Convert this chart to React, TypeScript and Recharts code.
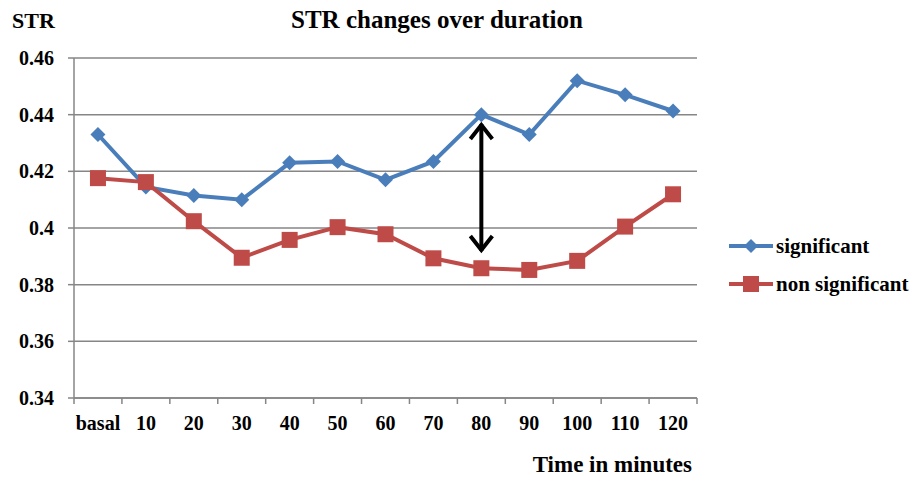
import React from "react";
import {
  LineChart,
  Line,
  XAxis,
  YAxis,
  CartesianGrid,
  ReferenceLine,
} from "recharts";

const categories = ["basal", "10", "20", "30", "40", "50", "60", "70", "80", "90", "100", "110", "120"];
const significant = [0.433, 0.4145, 0.4115, 0.41, 0.423, 0.4235, 0.417, 0.4235, 0.44, 0.433, 0.452, 0.447, 0.4413];
const nonSignificant = [0.4176, 0.4162, 0.4024, 0.3895, 0.3958, 0.4003, 0.3978, 0.3893, 0.3858, 0.3852, 0.3884, 0.4005, 0.4119];
const yTicks = [0.34, 0.36, 0.38, 0.4, 0.42, 0.44, 0.46];
const arrowCategory = "80";
const arrowTop = 0.4374;
const arrowBottom = 0.3912;

const W = 911;
const H = 477;
const M = { top: 58, right: 214, bottom: 49, left: 14 };
const Y_AXIS_W = 60;
const HALF_BAND = (W - M.left - Y_AXIS_W - M.right) / categories.length / 2;

const FONT = "Liberation Serif";
const BLUE = "#4a7ebb";
const RED = "#be4b48";
const AXIS = "#868686";

const data = categories.map((c, i) => ({
  t: c,
  significant: significant[i],
  "non significant": nonSignificant[i],
}));

const Diamond = ({ cx, cy }: any) =>
  cx == null ? null : (
    <polygon points={`${cx},${cy - 7.5} ${cx + 7.5},${cy} ${cx},${cy + 7.5} ${cx - 7.5},${cy}`} fill={BLUE} />
  );

const Square = ({ cx, cy }: any) =>
  cx == null ? null : <rect x={cx - 8} y={cy - 8} width={16} height={16} fill={RED} />;

const XTick = ({ x, y, payload, index }: any) => (
  <g>
    <line x1={x - HALF_BAND} y1={y} x2={x - HALF_BAND} y2={y + 6} stroke={AXIS} strokeWidth={1.5} />
    {index === categories.length - 1 && (
      <line x1={x + HALF_BAND} y1={y} x2={x + HALF_BAND} y2={y + 6} stroke={AXIS} strokeWidth={1.5} />
    )}
    <text x={x} y={y + 32} textAnchor="middle" fontFamily={FONT} fontWeight="bold" fontSize={20} fill="#000">
      {payload.value}
    </text>
  </g>
);

const Arrow = ({ x1, y1, x2, y2 }: any) => (
  <g stroke="#000" strokeWidth={4} fill="none" strokeLinecap="butt">
    <line x1={x1} y1={y1 + 2} x2={x2} y2={y2 - 2} />
    <polyline points={`${x1 - 11},${y1 + 17} ${x1},${y1 + 3} ${x1 + 11},${y1 + 17}`} />
    <polyline points={`${x2 - 11},${y2 - 17} ${x2},${y2 - 3} ${x2 + 11},${y2 - 17}`} />
  </g>
);

const legendItems = [
  { name: "significant", color: BLUE, mark: "d" },
  { name: "non significant", color: RED, mark: "s" },
];

const ChartLegend = () => (
  <div style={{ position: "absolute", left: 729, top: 227, fontFamily: FONT, fontWeight: "bold", fontSize: 21 }}>
    {legendItems.map((it) => (
      <div key={it.name} style={{ display: "flex", alignItems: "center", height: 38 }}>
        <svg width={46} height={20} style={{ marginRight: 1 }}>
          <line x1={0} y1={10} x2={44} y2={10} stroke={it.color} strokeWidth={4} />
          {it.mark === "d" ? (
            <polygon points="22,3 29,10 22,17 15,10" fill={it.color} />
          ) : (
            <rect x={14} y={2} width={16} height={16} fill={it.color} />
          )}
        </svg>
        <span style={{ color: "#000" }}>{it.name}</span>
      </div>
    ))}
  </div>
);

export default function App() {
  return (
    <div style={{ position: "absolute", left: 0, top: 0, width: W, height: H, background: "#fff" }}>
      <LineChart width={W} height={H} data={data} margin={M}>
        <CartesianGrid vertical={false} stroke={AXIS} strokeWidth={1.5} />
        <XAxis
          dataKey="t"
          scale="band"
          stroke={AXIS}
          strokeWidth={1.5}
          tickLine={false}
          tickSize={0}
          tickMargin={0}
          height={30}
          interval={0}
          tick={<XTick />}
        />
        <YAxis
          domain={[0.34, 0.46]}
          ticks={yTicks}
          width={Y_AXIS_W}
          stroke={AXIS}
          strokeWidth={1.5}
          tickSize={6}
          tickMargin={14}
          tickFormatter={(v: number) => String(Number(v.toFixed(2)))}
          tick={{ fontFamily: FONT, fontWeight: "bold", fontSize: 20, fill: "#000" }}
        />
        <Line
          dataKey="significant"
          stroke={BLUE}
          strokeWidth={4}
          dot={<Diamond />}
          activeDot={false}
          isAnimationActive={false}
        />
        <Line
          dataKey="non significant"
          stroke={RED}
          strokeWidth={4}
          dot={<Square />}
          activeDot={false}
          isAnimationActive={false}
        />
        <ReferenceLine
          segment={[
            { x: arrowCategory, y: arrowTop },
            { x: arrowCategory, y: arrowBottom },
          ]}
          ifOverflow="visible"
          shape={<Arrow />}
        />
      </LineChart>
      <ChartLegend />
      <svg width={W} height={H} style={{ position: "absolute", left: 0, top: 0, pointerEvents: "none" }}>
        <g fontFamily={FONT} fontWeight="bold" fill="#000">
          <text x={12} y={28} fontSize={22}>STR</text>
          <text x={437} y={28} fontSize={25} textAnchor="middle">STR changes over duration</text>
          <text x={692} y={472} fontSize={23} textAnchor="end">Time in minutes</text>
        </g>
      </svg>
    </div>
  );
}
